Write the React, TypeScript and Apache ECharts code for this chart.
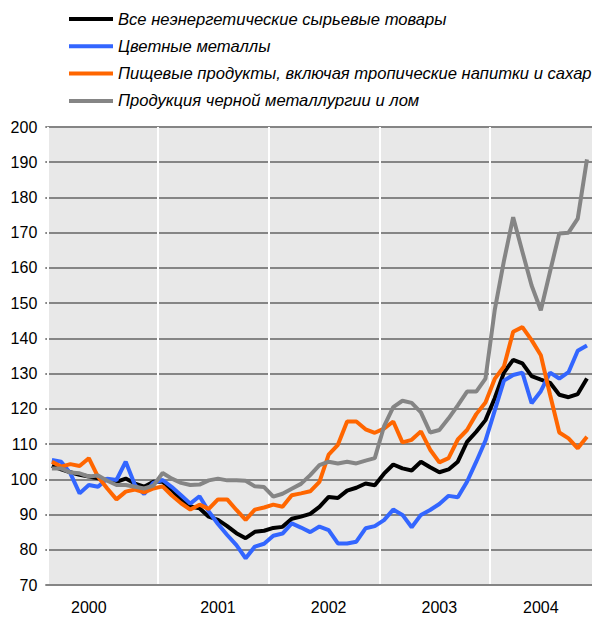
import React, { useEffect, useRef } from "react";
import * as echarts from "echarts";

const years = ["2000", "2001", "2002", "2003", "2004"];
const months = ["01", "02", "03", "04", "05", "06", "07", "08", "09", "10", "11", "12"];
const categories: string[] = [];
years.forEach((y) => months.forEach((m) => categories.push(`${y}-${m}`)));
// month index under which each year label sits
const yearLabelIndex = [4, 18, 30, 42, 53];

const seriesNames = [
  "Все неэнергетические сырьевые товары",
  "Цветные металлы",
  "Пищевые продукты, включая тропические напитки и сахар",
  "Продукция черной металлургии и лом",
];
const seriesColors = ["#000000", "#3366FF", "#FF6600", "#858585"];

const allNonFuel = [
  103.8, 102.8, 102, 101.3, 100.8, 100.3, 99.8, 99.3, 100.2, 98.8, 97.9, 99.3,
  99.3, 97, 94.1, 92.3, 91.8, 89.4, 88.5, 86.7, 84.7, 83.3, 85.1, 85.4,
  86.2, 86.5, 88.8, 89.4, 90.2, 92.2, 95, 94.7, 96.8, 97.6, 98.8, 98.3,
  101.6, 104.2, 103.1, 102.5, 105, 103.4, 102, 102.8, 105, 110.6, 113.5, 116.8,
  123, 130.3, 133.9, 132.9, 129.3, 128.3, 127.4, 124, 123.3, 124.2, 128.6,
];
const nonFerrous = [
  105.5, 105, 101.7, 96, 98.4, 97.9, 100.2, 99.8, 105, 98.4, 95.8, 99,
  99.8, 97.8, 95.5, 93.1, 95.2, 90.9, 87.3, 84.2, 81.3, 77.6, 80.9, 81.7,
  84, 84.6, 87.5, 86.3, 85, 86.6, 85.6, 81.8, 81.8, 82.3, 86.1, 86.7,
  88.4, 91.4, 89.9, 86.4, 89.9, 91.3, 93, 95.3, 94.9, 99.3, 105, 111,
  119.5, 128, 129.6, 130.3, 121.6, 125, 130.3, 128.6, 130.4, 136.5, 138,
];
const food = [
  105, 103.6, 104.3, 103.8, 106, 100.7, 97.4, 94.3, 96.5, 97.1, 96.3, 97.4,
  98, 95.4, 93.2, 91.4, 92.8, 91.6, 94.3, 94.3, 91.3, 88.5, 91.4, 92,
  92.8, 92.2, 95.5, 96, 96.6, 99.3, 107, 109.8, 116.4, 116.4, 114.2, 113.2,
  114.4, 116.4, 110.5, 111.2, 113.6, 108.4, 104.8, 106, 111.3, 114, 118.5, 121.8,
  128.5, 132, 141.9, 143.2, 139.5, 135.2, 124, 113.3, 111.6, 108.8, 112.1,
];
const steel = [
  103.1, 103.1, 101.9, 101.7, 100.8, 101.1, 99.6, 98.4, 98.4, 97.9, 97.4, 98.2,
  101.8, 100.2, 99, 98.4, 98.5, 99.7, 100.2, 99.7, 99.7, 99.6, 98, 97.8,
  95.1, 95.9, 97.3, 98.7, 101.2, 104, 105, 104.5, 105, 104.5, 105.3, 106,
  115, 120.5, 122.3, 121.7, 119, 113.3, 114, 117.3, 121, 124.9, 124.9, 128.6,
  148, 162, 174.4, 164.6, 155, 148, 159, 169.8, 170, 174, 190.8,
];
const seriesData = [allNonFuel, nonFerrous, food, steel];

const FONT = "'Liberation Sans', Arial, sans-serif";

export default function App() {
  const ref = useRef<HTMLDivElement>(null);
  useEffect(() => {
    if (!ref.current) return;
    const chart = echarts.init(ref.current, undefined, { renderer: "svg" });
    chart.setOption({
      animation: false,
      backgroundColor: "#ffffff",
      legend: {
        orient: "vertical",
        left: 69,
        top: 9,
        padding: 0,
        itemWidth: 44,
        itemHeight: 4,
        itemGap: 7.3,
        icon: "rect",
        data: seriesNames,
        textStyle: {
          fontFamily: FONT,
          fontSize: 16.6,
          fontStyle: "italic",
          color: "#000",
          lineHeight: 20,
        },
      },
      grid: {
        left: 47.3,
        top: 127,
        width: 553.5,
        height: 458,
        show: true,
        backgroundColor: "#E8E8E8",
        borderWidth: 0,
      },
      xAxis: [
        {
          type: "category",
          position: "bottom",
          data: categories,
          boundaryGap: true,
          z: 3,
          axisLine: { show: true, lineStyle: { color: "#858585", width: 2 } },
          axisTick: { show: false },
          splitLine: { show: false },
          axisLabel: {
            interval: (idx: number) => yearLabelIndex.includes(idx),
            formatter: (v: string) => v.slice(0, 4),
            fontFamily: FONT,
            fontSize: 16,
            color: "#000",
            margin: 14,
          },
        },
        {
          type: "category",
          position: "top",
          data: categories,
          boundaryGap: true,
          z: 1,
          axisLine: { show: false },
          axisTick: { show: false },
          axisLabel: { show: false },
          splitLine: {
            show: true,
            interval: (idx: number) => idx % 12 === 0,
            lineStyle: { color: "#ffffff", width: 2 },
          },
        },
      ],
      yAxis: {
        type: "value",
        min: 70,
        max: 200,
        interval: 10,
        z: 0,
        axisLine: { show: false },
        axisTick: { show: true, length: 2, lineStyle: { color: "#858585", width: 2 } },
        axisLabel: {
          fontFamily: FONT,
          fontSize: 16,
          color: "#000",
          margin: 10,
        },
        splitLine: { show: true, lineStyle: { color: "#858585", width: 2 } },
      },
      series: seriesNames.map((name, i) => ({
        name,
        type: "line",
        xAxisIndex: 0,
        data: seriesData[i],
        color: seriesColors[i],
        showSymbol: false,
        symbol: "none",
        lineStyle: { width: 4, color: seriesColors[i] },
        z: 2 + i * 0.1,
      })),
    });
    return () => chart.dispose();
  }, []);
  return (
    <div
      style={{
        position: "absolute",
        left: 0,
        top: 0,
        width: 592,
        height: 617,
        overflow: "hidden",
        background: "#fff",
      }}
    >
      <div ref={ref} style={{ width: 610, height: 617 }} />
    </div>
  );
}
